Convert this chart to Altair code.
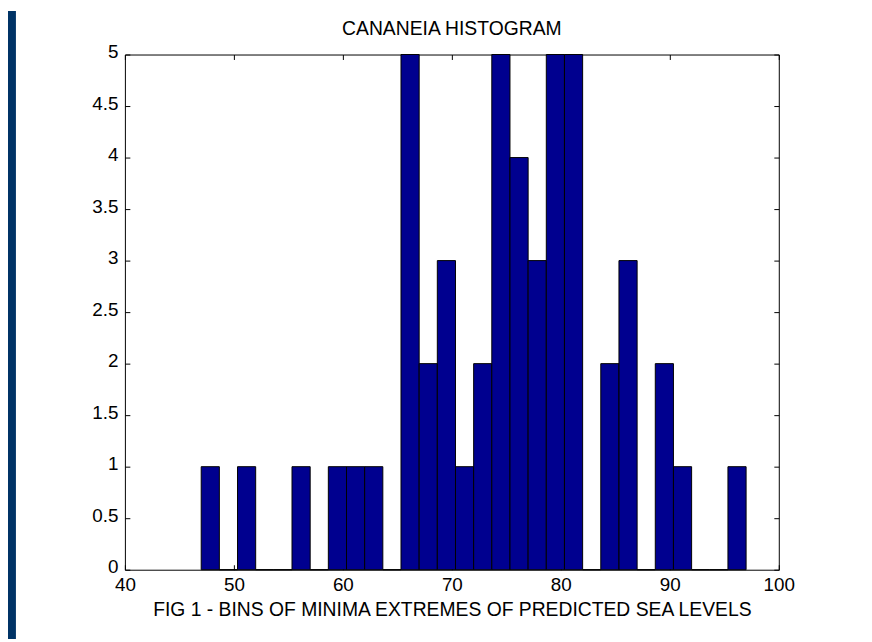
import altair as alt
import pandas as pd

# ---- data ----
bin_lo = 47.0          # left edge of first bin
bin_hi = 97.0          # right edge of last bin
n_bins = 30
counts = [1, 0, 1, 0, 0, 1, 0, 1, 1, 1,
          0, 5, 2, 3, 1, 2, 5, 4, 3, 5,
          5, 0, 2, 3, 0, 2, 1, 0, 0, 1]
x_ticks = [40, 50, 60, 70, 80, 90, 100]
y_ticks = [0, 0.5, 1, 1.5, 2, 2.5, 3, 3.5, 4, 4.5, 5]
title_text = "CANANEIA HISTOGRAM"
x_title = "FIG 1 - BINS OF MINIMA EXTREMES OF PREDICTED SEA LEVELS"

bw = (bin_hi - bin_lo) / n_bins
df = pd.DataFrame({
    "left": [bin_lo + i * bw for i in range(n_bins)],
    "right": [bin_lo + (i + 1) * bw for i in range(n_bins)],
    "count": counts,
})

FONT = "Liberation Sans, Arial, Helvetica, sans-serif"
BAR = "#00008F"
FRAME = "#003366"
W, H = 660, 520

xs = alt.Scale(domain=[40, 100], nice=False, zero=False)
ys = alt.Scale(domain=[0, 5], nice=False, zero=False)

base = alt.Chart(df)

tick_common = dict(labels=False, domain=False, grid=False, ticks=True,
                   tickSize=5, tickColor="black", tickWidth=1, title=None,
                   offset=-5)


def tick_layer(xo, yo):
    return base.mark_rect(opacity=0).encode(
        x=alt.X("left:Q", scale=xs,
                axis=alt.Axis(orient=xo, values=x_ticks, **tick_common)),
        x2="right:Q",
        y=alt.Y("count:Q", scale=ys,
                axis=alt.Axis(orient=yo, values=y_ticks, **tick_common)),
        y2=alt.datum(0),
    )


bars = base.mark_rect(color=BAR, stroke="black", strokeWidth=1).encode(
    x=alt.X("left:Q", scale=xs,
            axis=alt.Axis(orient="bottom", values=x_ticks, ticks=False,
                          tickSize=0, domain=False, grid=False,
                          labelPadding=6, labelBaseline="top",
                          labelFontSize=19, labelFont=FONT,
                          labelColor="black", labelFlush=False,
                          labelOverlap=False,
                          title=x_title, titleFont=FONT, titleFontSize=19.5,
                          titleFontWeight="normal", titleColor="black",
                          titleBaseline="alphabetic", titleY=46)),
    x2="right:Q",
    y=alt.Y("count:Q", scale=ys,
            axis=alt.Axis(orient="left", values=y_ticks, format="~g",
                          ticks=False, tickSize=0, domain=False, grid=False,
                          labelPadding=7, labelFontSize=19, labelFont=FONT,
                          labelColor="black", labelBaseline="middle",
                          labelOffset=-3, labelFlush=False,
                          labelOverlap=False, title=None)),
    y2=alt.datum(0),
)

# dark figure frame band on the left edge
band = alt.Chart(pd.DataFrame({"band": [0]})).mark_rect(color=FRAME).encode(
    x=alt.value(-118), x2=alt.value(-110),
    y=alt.value(-44), y2=alt.value(590),
)

# chart title, centred over the plot area
title = alt.Chart(pd.DataFrame({"t": [title_text]})).mark_text(
    font=FONT, fontSize=19.5, color="black", align="center",
    baseline="alphabetic",
).encode(text="t:N", x=alt.value(W / 2), y=alt.value(-20))

chart = alt.layer(
    band, tick_layer("bottom", "left"), tick_layer("top", "right"), bars,
    title,
).resolve_axis(
    x="independent", y="independent"
).properties(
    width=W,
    height=H,
    autosize=alt.AutoSizeParams(type="none"),
    padding={"left": 118, "top": 44, "right": 86, "bottom": 70},
    background="white",
).configure_view(
    stroke="black", strokeWidth=1
)

chart.save("out.html", embed_options={"renderer": "svg", "actions": False})
